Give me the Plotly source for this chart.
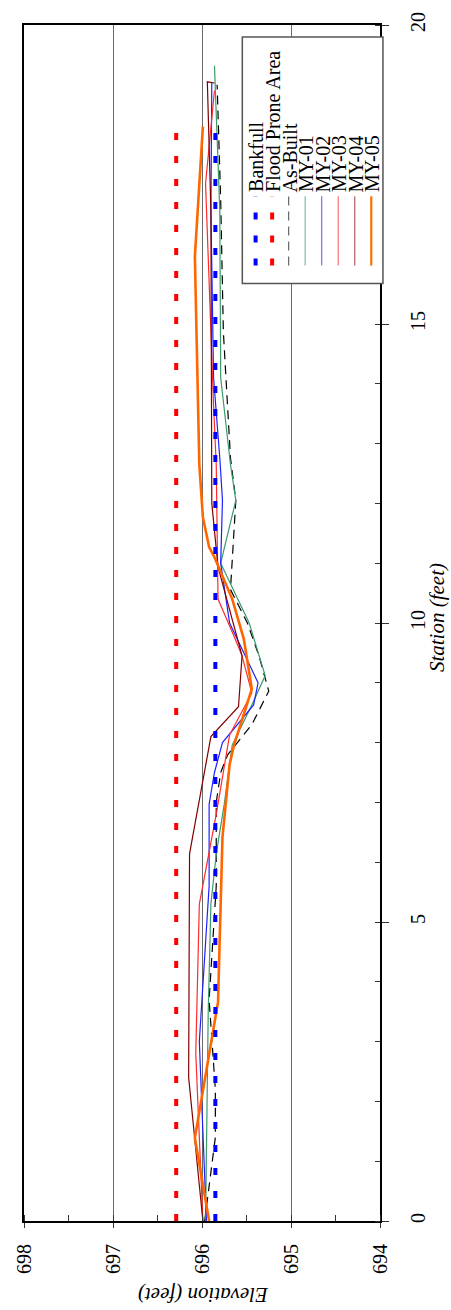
import plotly.graph_objects as go

# ---------------- data (station ft, elevation ft) ----------------
bank_sta = [0.0, 18.34]
bank_elev = [695.85, 695.85]
flood_sta = [0.0, 18.34]
flood_elev = [696.29, 696.29]

asb_sta = [0.0, 1.4, 2.2, 3.7, 5.6, 7.0, 7.5, 7.8, 8.3, 8.86, 9.45, 10.0, 10.56, 11.4, 12.05, 12.76, 14.87, 17.07, 18.6, 19.0]
asb_elev = [695.97, 695.85, 695.85, 695.92, 695.84, 695.84, 695.79, 695.71, 695.44, 695.25, 695.36, 695.49, 695.68, 695.65, 695.62, 695.68, 695.76, 695.79, 695.82, 695.83]

my1_sta = [0.0, 3.5, 5.3, 6.14, 6.97, 7.96, 8.63, 9.12, 10.0, 11.0, 12.05, 12.65, 14.1, 16.9, 19.32]
my1_elev = [695.96, 695.93, 695.90, 695.84, 695.75, 695.66, 695.44, 695.29, 695.47, 695.79, 695.62, 695.68, 695.79, 695.80, 695.86]

my2_sta = [0.0, 3.0, 5.6, 6.97, 7.5, 8.0, 8.63, 9.0, 10.0, 11.0, 12.05, 12.76, 14.1, 16.9, 19.03]
my2_elev = [695.95, 696.03, 695.92, 695.92, 695.86, 695.77, 695.42, 695.37, 695.69, 695.79, 695.77, 695.80, 695.87, 695.90, 695.89]

my3_sta = [0.0, 2.8, 5.3, 6.8, 8.13, 8.83, 9.45, 9.78, 10.4, 12.65, 13.64, 17.35, 18.9]
my3_elev = [695.99, 696.07, 696.03, 695.84, 695.69, 695.44, 695.55, 695.64, 695.82, 695.84, 695.87, 695.96, 695.86]

my4_sta = [0.0, 2.4, 6.14, 8.1, 8.6, 9.45, 10.94, 12.0, 16.9, 19.05, 19.03]
my4_elev = [695.99, 696.15, 696.14, 695.90, 695.59, 695.55, 695.82, 695.89, 695.90, 695.94, 695.86]

my5_sta = [0.0, 1.39, 3.66, 5.3, 6.42, 7.63, 7.96, 8.9, 9.73, 10.4, 11.1, 11.27, 11.77, 12.65, 16.13, 18.3]
my5_elev = [695.92, 696.08, 695.82, 695.79, 695.77, 695.69, 695.64, 695.44, 695.53, 695.66, 695.86, 695.92, 695.99, 696.03, 696.08, 695.99]

x_ticks = [698, 697, 696, 695, 694]
y_ticks = [0, 5, 10, 15, 20]

legend_names = ["Bankfull", "Flood Prone Area", "As-Built", "MY-01", "MY-02", "MY-03", "MY-04", "MY-05"]

# ---------------- styles ----------------
FONT = "Liberation Serif"
DOT = "7px,16px"
styles = [
    dict(color="#0000FF", width=4, dash=DOT),
    dict(color="#FF0000", width=4, dash=DOT),
    dict(color="#000000", width=1.2, dash="9px,6px"),
    dict(color="#3A9A6A", width=1.2, dash="solid"),
    dict(color="#2020FF", width=1.2, dash="solid"),
    dict(color="#FF2A2A", width=1.2, dash="solid"),
    dict(color="#800000", width=1.2, dash="solid"),
    dict(color="#FF6600", width=2.6, dash="solid"),
]
legend_colors = ["#0000FF", "#FF0000", "#666666", "#7FBF9F", "#7070FF", "#FF7070", "#B06060", "#FF7000"]

series = [
    (bank_elev, bank_sta), (flood_elev, flood_sta), (asb_elev, asb_sta),
    (my1_elev, my1_sta), (my2_elev, my2_sta), (my3_elev, my3_sta),
    (my4_elev, my4_sta), (my5_elev, my5_sta),
]

fig = go.Figure()
# draw order: thin lines first then thick, dotted on top
order = [2, 3, 4, 5, 6, 7, 0, 1]
for i in order:
    ex, st = series[i]
    fig.add_trace(go.Scatter(x=ex, y=st, mode="lines", name=legend_names[i],
                             line=styles[i], showlegend=False, hoverinfo="skip"))

# plot area geometry in pixels
W, H = 451, 1310
L, R, T, B = 18, 380, 13, 1221
pw, ph = R - L, B - T


def px(xp):
    return (xp - L) / pw


def py(yp):
    return (B - yp) / ph


shapes = []
annotations = []
# legend box
shapes.append(dict(type="rect", xref="paper", yref="paper",
                   x0=px(240), x1=px(383), y0=py(274), y1=py(25),
                   line=dict(color="#555555", width=1.5), fillcolor="white", layer="above"))
col_x = [253.5 + 16.8 * k for k in range(8)]
for k, name in enumerate(legend_names):
    st = styles[k]
    w = st["width"] if k < 2 else (2.2 if k == 7 else 1.2)
    shapes.append(dict(type="line", xref="paper", yref="paper",
                       x0=px(col_x[k]), x1=px(col_x[k]), y0=py(256), y1=py(186),
                       line=dict(color=legend_colors[k], width=w, dash=st["dash"]),
                       layer="above"))
    annotations.append(dict(text=name, xref="paper", yref="paper",
                            x=px(col_x[k] + 1), y=py(184), xanchor="center", yanchor="bottom",
                            textangle=-90, showarrow=False,
                            font=dict(family=FONT, size=20, color="black")))

# axis titles
annotations.append(dict(text="Elevation (feet)", xref="paper", yref="paper",
                        x=px(200), y=py(1295), xanchor="center", yanchor="middle",
                        textangle=180, showarrow=False,
                        font=dict(family=FONT, size=21, color="black", style="italic")))
annotations.append(dict(text="Station (feet)", xref="paper", yref="paper",
                        x=px(438), y=py(612), xanchor="center", yanchor="middle",
                        textangle=-90, showarrow=False,
                        font=dict(family=FONT, size=21, color="black", style="italic")))

fig.update_layout(
    width=W, height=H,
    margin=dict(l=L, r=W - R, t=T, b=H - B, pad=0),
    paper_bgcolor="white", plot_bgcolor="white",
    shapes=shapes, annotations=annotations,
    font=dict(family=FONT, size=20, color="black"),
)
fig.update_xaxes(
    range=[698, 694], tickvals=x_ticks, ticktext=[str(v) for v in x_ticks],
    tickangle=-90, ticks="outside", ticklen=5, tickcolor="#333", tickwidth=1,
    minor=dict(dtick=0.5, ticks="inside", ticklen=6, tickcolor="#333", tickwidth=1, showgrid=False),
    showgrid=True, gridcolor="#6a6a6a", gridwidth=1,
    showline=True, linecolor="black", linewidth=2, mirror=True, zeroline=False,
    tickfont=dict(family=FONT, size=20, color="black"), ticklabelstandoff=8,
)
fig.update_yaxes(
    range=[0, 20], tickvals=y_ticks, ticktext=[str(v) for v in y_ticks], side="right",
    tickangle=-90, ticks="outside", ticklen=7, tickcolor="#333", tickwidth=1,
    minor=dict(dtick=1, ticks="inside", ticklen=5, tickcolor="#333", tickwidth=1, showgrid=False),
    showgrid=False,
    showline=True, linecolor="black", linewidth=2, mirror=True, zeroline=False,
    tickfont=dict(family=FONT, size=20, color="black"), ticklabelstandoff=12,
)

fig.write_html("out.html")
